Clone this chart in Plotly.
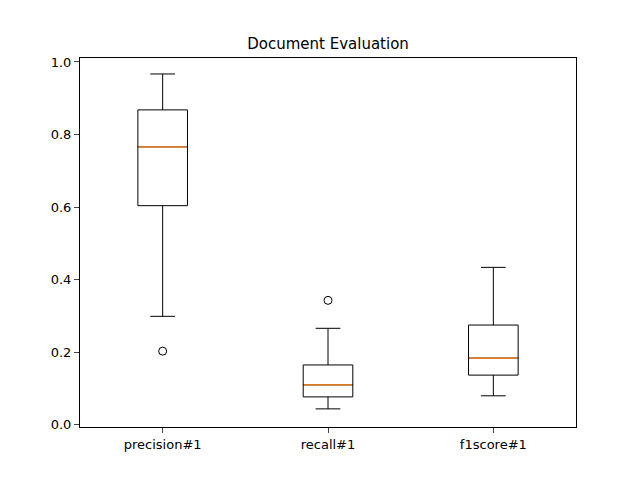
import plotly.graph_objects as go

labels = ["precision#1", "recall#1", "f1score#1"]
positions = [1, 2, 3]
lower = [0.299, 0.044, 0.080]
q1 = [0.604, 0.077, 0.137]
median = [0.766, 0.110, 0.184]
q3 = [0.868, 0.165, 0.275]
upper = [0.967, 0.266, 0.434]
outlier_x = [1, 2]
outlier_y = [0.203, 0.343]

box_w = 0.3
fig = go.Figure()
for i in range(3):
    fig.add_trace(go.Box(
        x=[positions[i]], q1=[q1[i]], median=[median[i]], q3=[q3[i]],
        lowerfence=[lower[i]], upperfence=[upper[i]],
        width=box_w, whiskerwidth=0.5, boxpoints=False,
        fillcolor="rgba(0,0,0,0)", line=dict(color="black", width=1),
        showlegend=False, hoverinfo="skip"))
    fig.add_trace(go.Scatter(
        x=[positions[i] - box_w / 2 + 0.005, positions[i] + box_w / 2 - 0.005],
        y=[median[i], median[i]], mode="lines",
        line=dict(color="#ff7f0e", width=1.2), showlegend=False))

fig.add_trace(go.Scatter(
    x=outlier_x, y=outlier_y, mode="markers",
    marker=dict(symbol="circle-open", size=8, color="black", line=dict(width=1)),
    showlegend=False))

fig.update_layout(
    width=640, height=480,
    margin=dict(l=72, r=72, t=50, b=61),
    paper_bgcolor="white", plot_bgcolor="white",
    font=dict(family="DejaVu Sans", size=13, color="black"),
    title=dict(text="Document Evaluation", x=0.5, xanchor="center",
               y=1 - 36 / 480, yanchor="middle", font=dict(size=15)),
    xaxis=dict(range=[0.5, 3.5], tickvals=positions, ticktext=labels,
               showgrid=False, zeroline=False, showline=True, mirror=True,
               linecolor="black", ticks="outside", ticklen=5),
    yaxis=dict(range=[-0.006, 1.011], tickvals=[0, 0.2, 0.4, 0.6, 0.8, 1.0],
               tickformat=".1f", showgrid=False, zeroline=False, showline=True,
               mirror=True, linecolor="black", ticks="outside", ticklen=5),
)
fig.write_html("out.html")
